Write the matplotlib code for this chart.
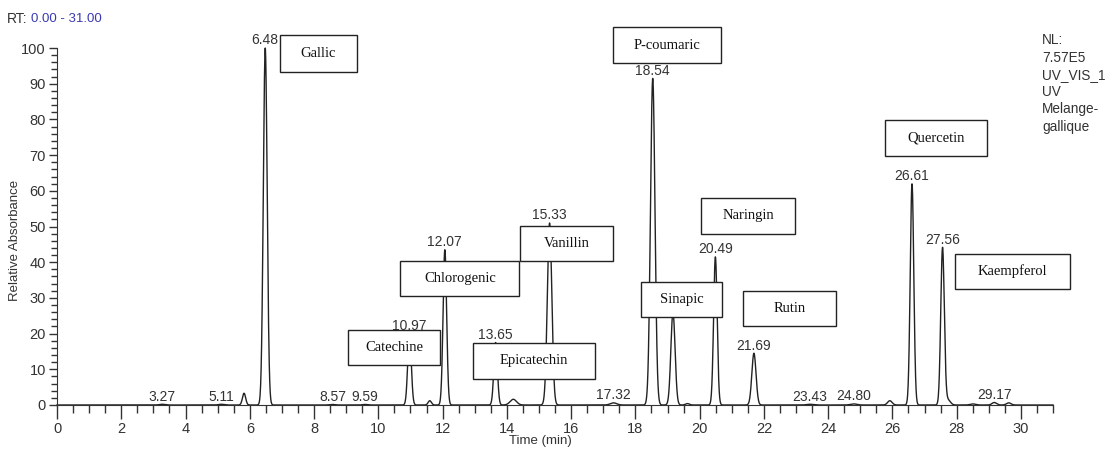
import numpy as np
import matplotlib.pyplot as plt
from matplotlib.patches import Rectangle

plt.rcParams['font.family'] = ['Liberation Sans', 'DejaVu Sans']

# peak table of the UV trace: retention time (min), relative height (%), gaussian sigma (min)
peak_rt = [3.27, 5.11, 5.82, 6.48, 8.57, 9.59, 10.97, 11.60, 12.07, 13.65, 14.20,
           15.33, 17.32, 18.54, 19.17, 19.62, 20.49, 21.69, 23.43, 24.80, 25.92,
           26.61, 27.56, 27.72, 28.50, 29.17, 29.62]
peak_height = [0.2, 0.2, 3.3, 100, 0.15, 0.15, 20, 1.2, 43.5, 17.5, 1.6,
               51, 0.6, 91.5, 26, 0.4, 41.5, 14.5, 0.2, 0.3, 1.2,
               62, 44, 1.5, 0.3, 0.7, 0.6]
peak_sigma = [0.08, 0.08, 0.05, 0.06, 0.08, 0.08, 0.055, 0.05, 0.055, 0.055, 0.1,
              0.07, 0.1, 0.07, 0.065, 0.06, 0.055, 0.065, 0.1, 0.1, 0.07,
              0.055, 0.055, 0.08, 0.08, 0.07, 0.07]

# retention times printed above the peaks
labelled_rt = [3.27, 5.11, 6.48, 8.57, 9.59, 10.97, 12.07, 13.65, 15.33, 17.32,
               18.54, 20.49, 21.69, 23.43, 24.80, 26.61, 27.56, 29.17]

# compound names in boxes: (name, x0, x1, y0, y1) in data units
compounds = [
    ('Gallic', 6.93, 9.34, 93.3, 103.6),
    ('P-coumaric', 17.30, 20.67, 95.8, 105.9),
    ('Quercetin', 25.76, 28.94, 69.7, 79.8),
    ('Naringin', 20.04, 22.98, 47.9, 58.0),
    ('Vanillin', 14.42, 17.30, 40.3, 50.1),
    ('Chlorogenic', 10.68, 14.39, 30.5, 40.3),
    ('Kaempferol', 27.94, 31.53, 32.5, 42.3),
    ('Sinapic', 18.17, 20.70, 24.6, 34.5),
    ('Rutin', 21.36, 24.23, 22.1, 31.9),
    ('Catechine', 9.05, 11.93, 11.2, 21.0),
    ('Epicatechin', 12.96, 16.73, 7.3, 17.4),
]

t = np.linspace(0, 31, 6000)
signal = np.zeros_like(t)
for rt, h, s in zip(peak_rt, peak_height, peak_sigma):
    signal += h * np.exp(-0.5 * ((t - rt) / s) ** 2)

fig = plt.figure(figsize=(11.12, 4.49), dpi=100)
ax = fig.add_axes([0.0513, 0.098, 0.8957, 0.795])
ax.plot(t, signal, color='#222222', lw=1.0, clip_on=False, zorder=2)

ax.set_xlim(0, 31)
ax.set_ylim(0, 100)
ax.set_xticks(np.arange(0, 31, 2))
ax.set_xticks(np.arange(0, 31.01, 0.5), minor=True)
ax.set_yticks(np.arange(0, 101, 10))
ax.set_yticks(np.arange(0, 101, 2), minor=True)
for side in ['top', 'right']:
    ax.spines[side].set_visible(False)
for side in ['left', 'bottom']:
    ax.spines[side].set_color('#333333')
ax.tick_params(axis='both', which='major', length=6, width=1, color='#333333',
               labelsize=10.5, labelcolor='#333333', pad=2)
ax.tick_params(axis='both', which='minor', length=4, width=1, color='#333333')
ax.tick_params(axis='x', which='minor', length=6)
ax.tick_params(axis='x', which='major', length=10)

ax.set_xlabel('Time (min)', fontsize=9.5, color='#333333')
ax.xaxis.set_label_coords(0.485, -0.085)
ax.set_ylabel('Relative Absorbance', fontsize=9.5, color='#333333')
ax.yaxis.set_label_coords(-0.036, 0.46)

# retention-time labels
for rt in labelled_rt:
    i = peak_rt.index(rt)
    ax.annotate(f'{rt:.2f}', (rt, peak_height[i]), xytext=(0, 0.5),
                textcoords='offset points', ha='center', va='bottom',
                fontsize=10, color='#333333', annotation_clip=False, zorder=3)

# boxed compound names
for name, x0, x1, y0, y1 in compounds:
    ax.add_patch(Rectangle((x0, y0), x1 - x0, y1 - y0, facecolor='white',
                           edgecolor='#222222', lw=1.0, clip_on=False, zorder=4))
    ax.text((x0 + x1) / 2, (y0 + y1) / 2, name, ha='center', va='center',
            family='Liberation Serif', fontsize=10.5, color='#111111', zorder=5,
            clip_on=False)

fig.text(0.025, 0.958, 'RT:', fontsize=10, color='#333333', va='center', ha='right')
fig.text(0.028, 0.958, '0.00 - 31.00', fontsize=9.5, color='#3a3ab0', va='center')
fig.text(0.937, 0.926, 'NL:\n7.57E5\nUV_VIS_1\nUV\nMelange-\ngallique',
         fontsize=9.8, color='#333333', va='top', linespacing=1.3)

fig.savefig('out.png', dpi=100)
